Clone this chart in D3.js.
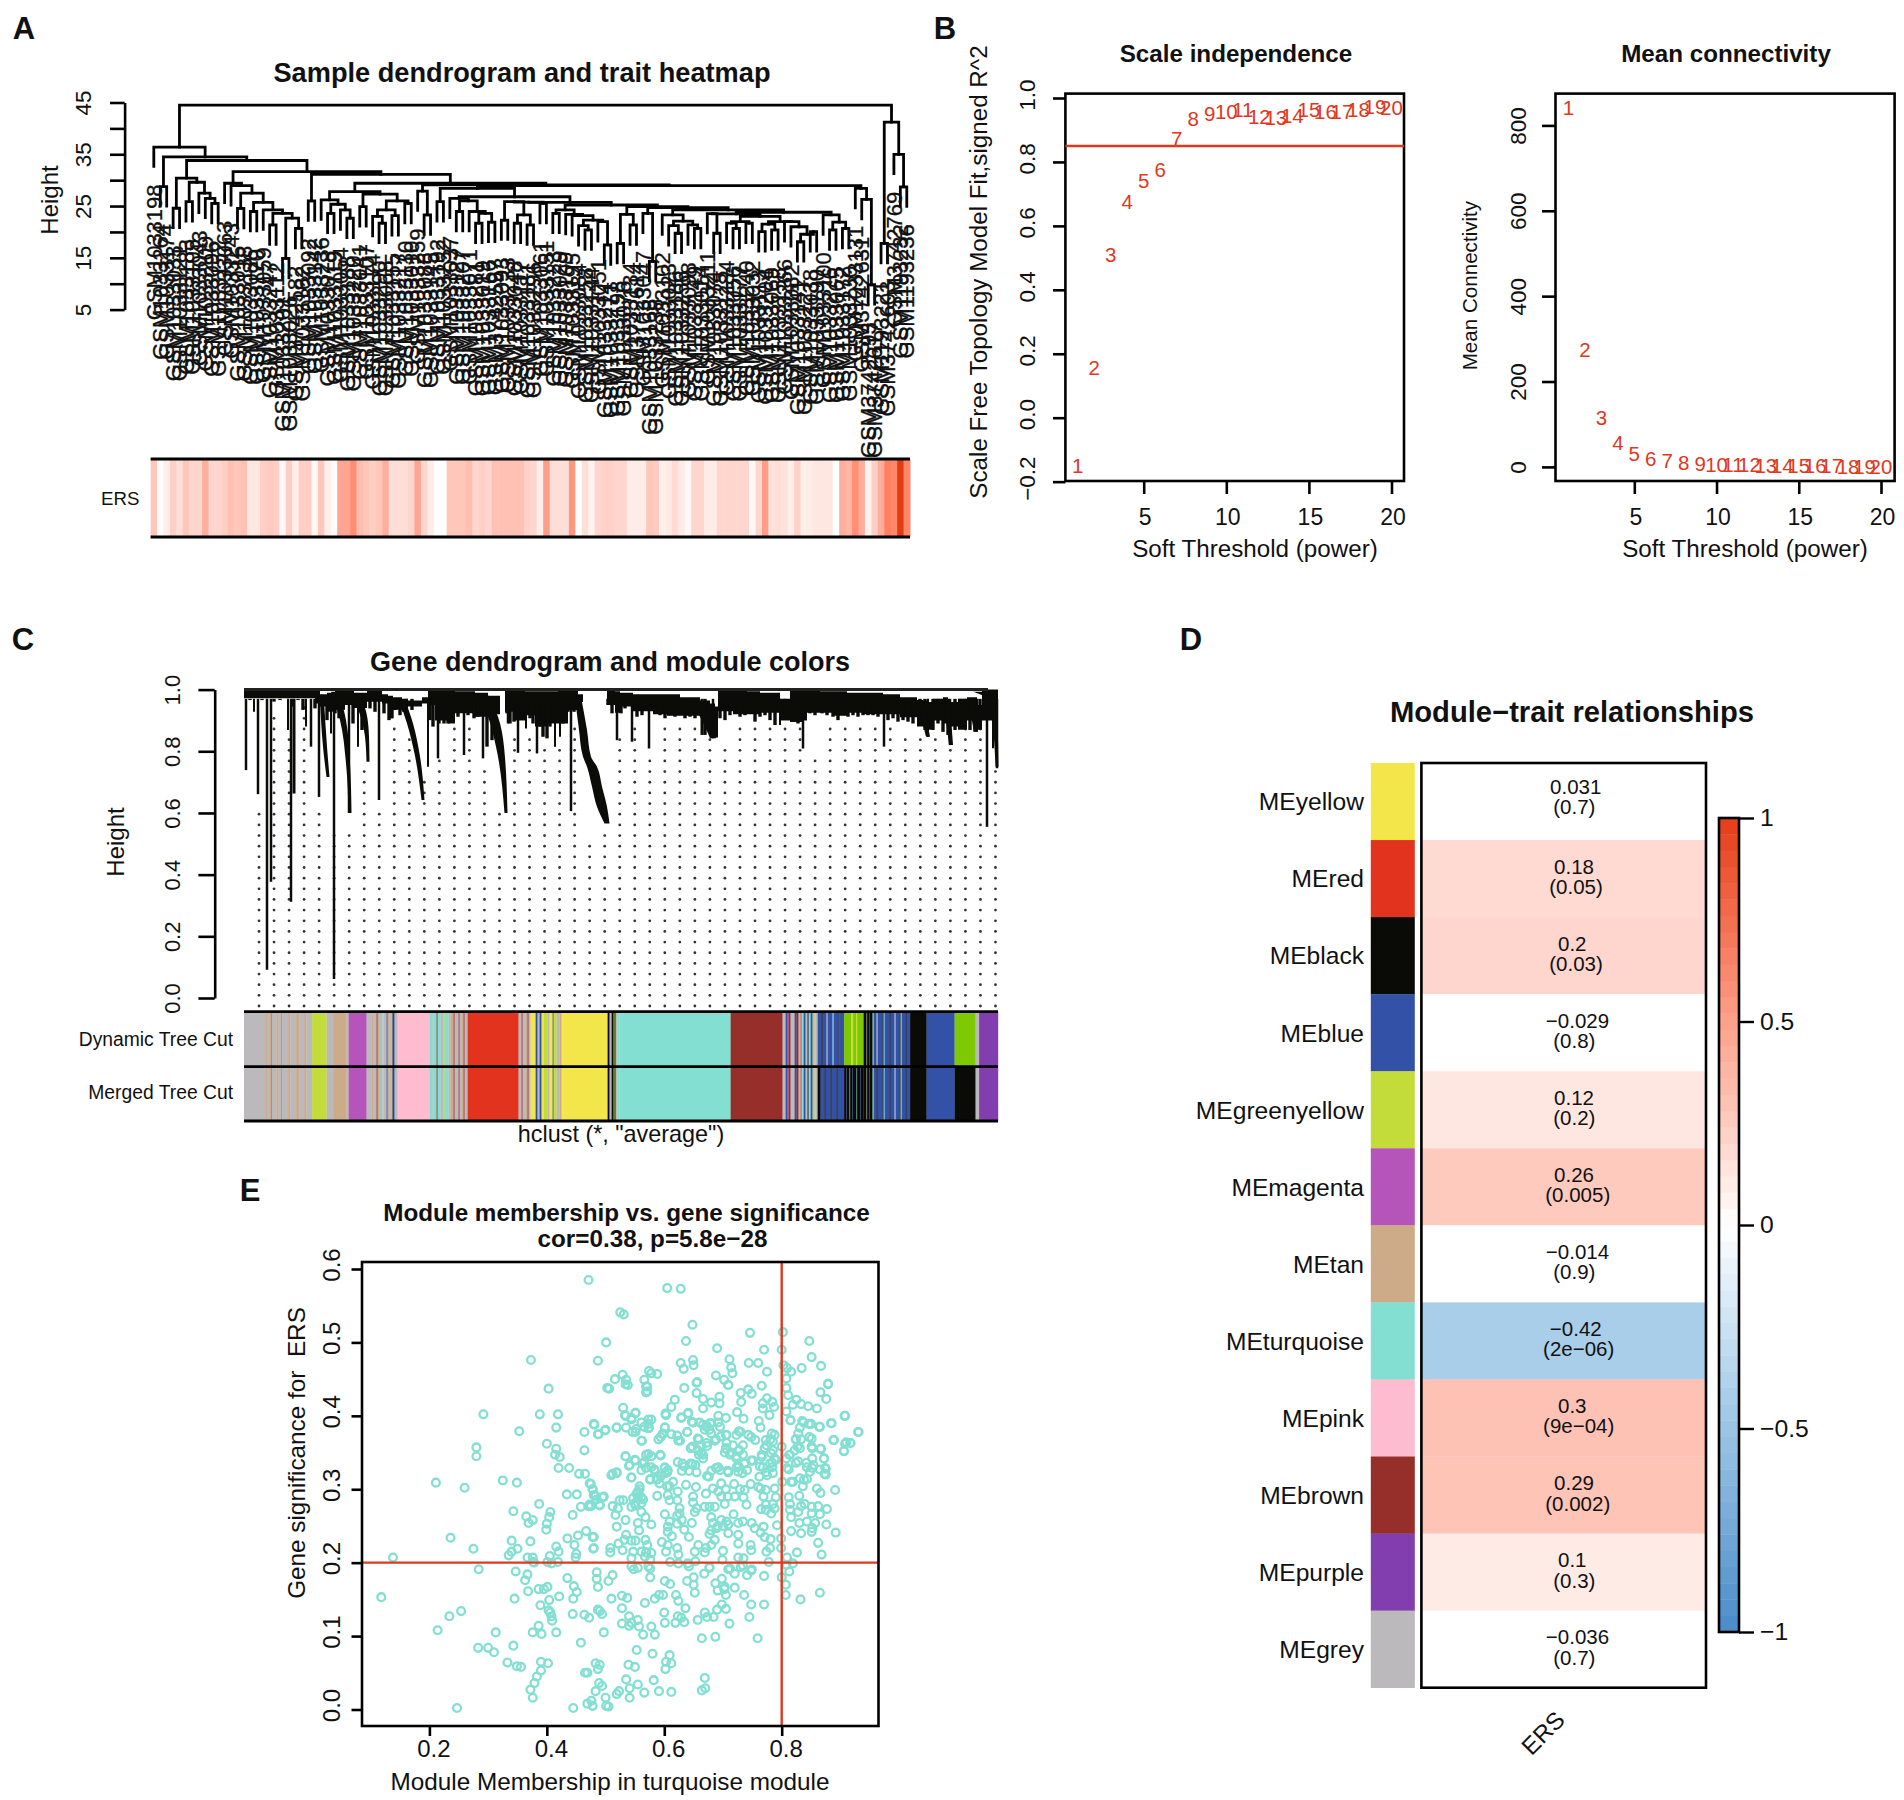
<!DOCTYPE html>
<html>
<head>
<meta charset="utf-8">
<title>WGCNA panels</title>
<script src="https://cdn.jsdelivr.net/npm/d3@7"></script>
<style>
  body { margin: 0; background: #fff; }
  text { font-family: "Liberation Sans", Arial, sans-serif; fill: #111; }
</style>
</head>
<body>
<div id="chart"></div>
<script>
// ---- panel A data
var L = 0; // a leaf of the sample tree
var sampleTree = [44.5,
  [36.4, L,
    [34.5,
      [28.75, L, L],
      [33.8,
        [30.4, [24.6, L, L], [29.6, [25.85, L, L], [27.5, L, [26.5, L, [25.5, L, L]]]]],
        [31.65,
          [29.4, L, [28.95, L, [27.5, [24.55, L, L], [25.7, [23.95, L, L], [24.25, L, [23.6, [21.35, L, L], [22.65, [14.9, L, L], [20.7, L, L]]]]]]]],
          [31.1,
            [26, L, L],
            [29.4,
              [27.8,
                [26.2, L, [25.35, [23.6, L, L], [24.25, L, [22.65, L, L]]]],
                [27.3, [24.9, L, L], [26, [24.25, [23, L, [21.7, L, L]], [23.15, L, L]], [25.5, L, L]]]],
              [29.1,
                [27.9, L, [23.3, L, L]],
                [28.95,
                  [28.4,
                    [25.85, L, L],
                    [26.8,
                      [26.5, L, [26, [23.95, L, L], [23.95, L, [23.6, [21.7, L, L], [21.9, L, L]]]]],
                      [25.7,
                        [25.75, [25.85, [22.3, L, L], [23.3, [21.7, L, L], [21.35, L, L]]], [25.5, L, L]],
                        [25.2,
                          [24.25, [23.6, L, L], [23.4, L, [23.15, L, [22.3, [21.2, L, [20.4, L, L]], [22, L, [17.5, L, L]]]]]],
                          [24.9,
                            [23.4, [17.8, L, L], [21.35, L, L]],
                            [24.7,
                              [23.6, L, [14.3, L, L]],
                              [24.25,
                                [23.3, L, [22.1, [21.2, L, [19.75, L, L]], [21.35, L, [20.7, L, L]]]],
                                [23.8,
                                  [23.5,
                                    [23.55, L, [19.75, L, L]],
                                    [23,
                                      [22, [21.7, L, [20.7, L, L]], [21.7, L, L]],
                                      [22, [21.5, [20.05, L, L], [20.4, L, L]], [22, L, [21, L, [19.55, [18.1, L, L], [20.05, L, L]]]]]]],
                                  [23.3, L, [21.9, [20.4, L, L], [20.7, L, L]]]]]]]]]]],
                  [28.4, L, [26.3, L, [9.8, L, L]]]]]]]]]]],
  [41.2, [17.8, L, L], [35, L, [28.7, L, L]]]];

var sampleIds = [
  "GSM1033198", "GSM1033264", "GSM1033174", "GSM1033033", "GSM1033121", "GSM1033183", "GSM1033105", "GSM1033043", "GSM1033209", "GSM1033096",
  "GSM1033152", "GSM1033063", "GSM1033243", "GSM1033015", "GSM1033138", "GSM1033086", "GSM1033170", "GSM1033059", "GSM1033247", "GSM1033112",
  "GSM1033201", "GSM1033026", "GSM3742582", "GSM1033162", "GSM1033092", "GSM1033142", "GSM1033236", "GSM1033078", "GSM1033119", "GSM1033054",
  "GSM1033188", "GSM1033220", "GSM1033041", "GSM1033107", "GSM1033174", "GSM1033290", "GSM1033068", "GSM1033155", "GSM1033217", "GSM1033130",
  "GSM1033010", "GSM1033259", "GSM1033088", "GSM1033145", "GSM1033192", "GSM1033252", "GSM1033037", "GSM1033127", "GSM1033207", "GSM1033071",
  "GSM1033281", "GSM1033019", "GSM1033166", "GSM3742597", "GSM1033093", "GSM1033233", "GSM1033048", "GSM1033117", "GSM1033181", "GSM1033296",
  "GSM1033061", "GSM1033151", "GSM1033223", "GSM1033029", "GSM1033109", "GSM1033195", "GSM1033084", "GSM1033258", "GSM1033144", "GSM1033051",
  "GSM1033214", "GSM1033271", "GSM1033198", "GSM1033076", "GSM1033134", "GSM3742614", "GSM1033047", "GSM1033168", "GSM1033238", "GSM1033102",
  "GSM1033023", "GSM1033186", "GSM1033256", "GSM1033098", "GSM1033149", "GSM1033014", "GSM1033211", "GSM1033074", "GSM1033125", "GSM1033284",
  "GSM1033056", "GSM1033177", "GSM1033240", "GSM1033032", "GSM1033113", "GSM1033204", "GSM1033069", "GSM1033158", "GSM1033266", "GSM1033082",
  "GSM1033141", "GSM1033227", "GSM1033038", "GSM1033190", "GSM1033100", "GSM1033276", "GSM1033065", "GSM1033172", "GSM1033230", "GSM1033131",
  "GSM3742631", "GSM3742593", "GSM3742617", "GSM1193221", "GSM3742603", "GSM3742769", "GSM1193232", "GSM1193236"
];

var ersValues = [
  .35, .02, .1, .3, .2, .35, .25, .25, .5, .25,
  .25, .3, .38, .35, .38, .15, .15, .3, .32, .3,
  .05, .3, .1, .3, .3, .05, .35, .1, .02, .55,
  .55, .7, .4, .35, .3, .35, .5, .2, .2, .2,
  .25, .55, .25, .12, 0, 0, .35, .35, .35, .4,
  .25, .3, .25, .38, .38, .38, .38, .38, .28, .25,
  .1, .6, .2, .2, .2, .65, 0, .2, .08, .25,
  .28, .28, .25, .25, .12, .12, .12, .35, .32, .1,
  .13, .22, .13, .05, .25, .25, .12, .12, .25, .25,
  .25, .25, .25, .05, .25, .6, .18, .2, .18, .1,
  .28, .1, .12, .15, .15, .15, 0, .5, .45,
  .7, .5, .08, .3, .5, .8, .75, 1, .75
];

// ---- panel B data
var powers = [1, 2, 3, 4, 5, 6, 7, 8, 9, 10, 11, 12, 13, 14, 15, 16, 17, 18, 19, 20];
var scaleFit = [-0.149, 0.155, 0.508, 0.676, 0.74, 0.775, 0.873, 0.936, 0.949, 0.956, 0.962, 0.94, 0.939, 0.943, 0.962, 0.957, 0.956, 0.963, 0.971, 0.97];
var meanConn = [842, 275, 114, 57, 31, 19, 14, 9.5, 7, 6, 4.5, 4, 3.2, 2.8, 2.2, 1.8, 1.5, 1.2, 1, 0.8];

// ---- panel C data
var moduleColors = {
  grey: "#bbb9bb", tan: "#cdab88", greenyellow: "#c3dc3a", magenta: "#b655b9", pink: "#fdbcd0",
  red: "#e2331f", yellow: "#f3e64a", turquoise: "#83dfd2", brown: "#962f29", black: "#0a0a07",
  blue: "#3251a7", green: "#7ec904", purple: "#823eae"
};
var sharedRuns = [
  ["grey", 22], ["tan", 1], ["grey", 3], ["tan", 1], ["red", .6], ["grey", 5], ["tan", 2], ["grey", 3], ["red", .5], ["grey", 6], ["tan", 2], ["grey", 6], ["tan", 3], ["grey", 5], ["tan", 2], ["grey", 6],
  ["greenyellow", 14.5], ["grey", 6.5], ["tan", 13.5], ["grey", 2], ["magenta", 18],
  ["grey", 5], ["tan", 2], ["grey", 3], ["brown", 1], ["tan", 2], ["grey", 3], ["turquoise", 1], ["grey", 3], ["blue", 1], ["tan", 2], ["grey", 3], ["black", 1], ["blue", 1], ["grey", 3],
  ["pink", 32],
  ["turquoise", 3], ["grey", 1], ["turquoise", 3], ["brown", 1], ["turquoise", 3], ["grey", 3], ["greenyellow", 1], ["turquoise", 4], ["grey", 2], ["tan", 3], ["brown", 1], ["grey", 4], ["brown", 1], ["grey", 2], ["tan", 2], ["brown", 1], ["grey", 3],
  ["red", 51],
  ["grey", 3], ["brown", 1], ["grey", 3], ["tan", 2], ["brown", 1], ["grey", 2], ["yellow", 5], ["blue", 2], ["grey", 2], ["blue", 2], ["yellow", 2], ["greenyellow", 4], ["grey", 2], ["yellow", 3], ["blue", 1], ["greenyellow", 3], ["grey", 3], ["tan", 2], ["yellow", 2],
  ["yellow", 44],
  ["black", 2], ["grey", 2], ["black", 2], ["green", 1], ["black", 1], ["grey", 2], ["turquoise", 2],
  ["turquoise", 111],
  ["brown", 52],
  ["grey", 3], ["blue", 2], ["magenta", 1], ["brown", 2], ["grey", 3], ["tan", 1], ["blue", 2], ["brown", 2], ["grey", 2], ["red", 1], ["turquoise", 2], ["blue", 2], ["grey", 2], ["black", 1], ["turquoise", 2], ["blue", 2], ["grey", 2], ["greenyellow", 1], ["grey", 2]
];
var dynamicTail = [
  ["blue", 4], ["black", 1], ["blue", 4], ["grey", 1], ["blue", 5], ["turquoise", 1], ["blue", 5], ["black", .5], ["blue", 5],
  ["green", 7], ["greenyellow", 2], ["green", 3], ["greenyellow", 1], ["green", 6.5],
  ["black", 3], ["grey", .5], ["black", 2], ["blue", .5], ["black", 3], ["turquoise", 1], ["blue", 3], ["grey", 1], ["blue", 5], ["black", 1], ["turquoise", 1], ["blue", 5], ["black", 1], ["blue", 4], ["grey", 1], ["blue", 4], ["black", 1], ["turquoise", 1], ["blue", 4], ["black", 1], ["blue", 3.5],
  ["black", 16.5], ["blue", 28], ["green", 21], ["grey", 3.5], ["purple", 19.5]
];
var mergedTail = [
  ["black", 3], ["blue", 4], ["black", 1], ["blue", 5], ["black", 1], ["blue", 5], ["black", 1], ["blue", 6.5],
  ["black", 2], ["blue", .5], ["black", 3], ["grey", .5], ["black", 2], ["blue", .5], ["black", 4], ["turquoise", .5], ["black", 3], ["blue", .5], ["black", 3],
  ["black", 3], ["grey", .5], ["black", 2], ["blue", .5], ["black", 3], ["turquoise", 1], ["blue", 3], ["black", 1], ["blue", 5], ["black", 1], ["turquoise", 1], ["blue", 5], ["black", 1], ["blue", 4], ["grey", 1], ["blue", 4], ["black", 1], ["turquoise", 1], ["blue", 4], ["black", 1], ["blue", 3.5],
  ["black", 16.5], ["blue", 28], ["black", 21], ["grey", 3.5], ["purple", 19.5]
];

// [gene order, top height, lower height] of the solid part of the gene tree
var geneCanopy = [
  [0, 1, .972], [71, 1, .955], [76, .985, .945], [83, .99, .928], [91, 1, .935], [101, 1, .95], [110, .99, .94], [123, 1, .961],
  [138, .985, .955], [144, .98, .907], [149, .975, .935], [158, .97, .928], [164, .965, .945], [178, .975, .955], [184, 1, .95], [191, 1, .9],
  [204, 1, .89], [211, .995, .923], [221, .995, .923], [231, .99, .912], [244, .98, .92], [256, 1, 1], [261, 1, .928], [271, 1, .9],
  [281, .995, .917], [291, .995, .88], [304, .995, .89], [314, 1, .89], [324, 1, .934], [334, .985, .96], [339, 1, 1], [363, 1, .95],
  [371, .995, .925], [376, .99, .945], [389, .985, .93], [409, .985, .92], [423, .985, .915], [436, .975, .915], [456, .965, .91], [466, .955, .86],
  [471, .945, .845], [474, 1, .93], [489, 1, .92], [503, .995, .92], [516, .99, .925], [536, .97, .9], [546, 1, .895], [559, 1, .9],
  [563, 1, .925], [576, .995, .925], [589, .995, .915], [603, .99, .925], [619, .99, .92], [639, .985, .92], [656, .975, .91], [673, .965, .88],
  [683, .96, .87], [689, .97, .9], [699, .975, .89], [704, .96, .88], [714, .97, .87], [723, .975, .9], [733, .95, .87], [738, 1, .9], [754, 1, .9]
];
// [gene order, lowest height] of the short twigs under the canopy
var geneTwigs = [
  [6, .966], [18, .966], [30, .961], [36, .966], [49, .945], [54, .966], [59, .934], [71, .939], [83, .901], [91, .923], [95, .907], [109, .89], [118, .869], [126, .939], [131, .928], [140, .923],
  [145, .901], [148, .907], [151, .934], [156, .917], [162, .923], [168, .934], [186, .901], [189, .88], [195, .89], [200, .89], [204, .89], [209, .917], [214, .912], [224, .917], [230, .907], [234, .912],
  [243, .815], [248, .836], [263, .923], [266, .89], [270, .896], [278, .912], [286, .907], [289, .89], [296, .88], [299, .847], [303, .842], [306, .88], [319, .89], [324, .928], [330, .928],
  [364, .95], [368, .923], [377, .923], [381, .939], [393, .912], [398, .917], [411, .923], [416, .917], [421, .907], [426, .917], [431, .912], [436, .917], [441, .907], [446, .912], [451, .907], [461, .853],
  [476, .907], [481, .901], [486, .917], [491, .923], [496, .912], [501, .917], [506, .923], [511, .896], [516, .912], [521, .917], [526, .901], [531, .885], [541, .907], [548, .896], [554, .89],
  [566, .923], [571, .917], [578, .923], [583, .917], [589, .912], [594, .901], [599, .917], [604, .912], [609, .917], [614, .912], [619, .917], [624, .917], [629, .917], [634, .912],
  [644, .901], [649, .907], [654, .896], [659, .901], [664, .896], [669, .89], [676, .885], [681, .869], [689, .869], [694, .89], [699, .863], [704, .853], [711, .869], [716, .896], [721, .88], [726, .869], [731, .863], [736, .885]
];
// [gene order, lowest height, stroke width] of the single hanging branches
var geneSpikes = [
  [2, .739, 2.5], [10, .928, 2], [14, .661, 2.5], [23, .092, 2.5], [27, .377, 2.5], [44, .869, 2], [47, .312, 2.5], [50, .663, 3], [62, .88, 2], [67, .815, 2.5],
  [75, .652, 2.5], [87, .858, 2], [90, .062, 2.5], [105, .6, 2.5], [114, .815, 2], [135, .642, 2.5], [184, .75, 2], [194, .777, 2.5], [220, .788, 2.5], [239, .777, 2.5],
  [264, .89, 2.5], [274, .795, 2.5], [282, .874, 2], [293, .793, 2.5], [311, .815, 2], [316, .847, 2], [327, .606, 2.5], [373, .836, 2.5], [388, .831, 2.5], [405, .809, 2.5],
  [458, .853, 3], [469, .842, 2.5], [536, .885, 2], [559, .809, 2.5], [640, .815, 2.5], [684, .847, 2], [706, .82, 2.5], [733, .863, 2], [743, .555, 2.5], [749, .81, 2], [753, .745, 2.5]
];
// [gene order, height, half width] along the thick curved branches
var geneSweeps = [
  [[91, .993, 4], [99, .901, 3], [104, .761, 2], [106, .6, 1.5]],
  [[111, .988, 4], [119, .923, 3.5], [123, .847, 2], [124, .766, 1.5]],
  [[158, .966, 3], [166, .89, 3], [173, .793, 2.5], [179, .642, 1.5]],
  [[238, .988, 5], [249, .912, 5], [256, .815, 4], [262, .6, 1.5]],
  [[334, .977, 3], [339, .869, 4], [343, .782, 4], [348, .75, 5], [353, .685, 5], [358, .62, 5], [363, .566, 2.5]],
  [[78, .966, 2], [81, .815, 2], [84, .717, 1.5]],
  [[734, .993, 5], [744, .977, 4], [750, .923, 3], [753, .75, 1.5]],
  [[446, .97, 2], [459, .923, 5], [469, .842, 3]],
  [[676, .966, 3], [684, .847, 2]],
  [[703, .955, 3], [707, .82, 2]],
  [[728, .95, 3], [732, .864, 2]]
];
// highest guide dot of each dotted column, left to right
var guideTops = [
  .62, .92, .85, .95, .6, .55, .55, .75, .63, .88, .85, .7, .78, .9, .88, .75, .6, .85, .87, .82, .82, .9, .5, .55,
  .84, .88, .8, .88, .88, .9, .88, .82, .88, .88, .9, .88, .88, .8, .88, .9, .9, .88, .88, .85, .85, .84, .85, .88, .88, .75
];

// ---- panel D data
var moduleNames = ["MEyellow", "MEred", "MEblack", "MEblue", "MEgreenyellow", "MEmagenta", "MEtan", "MEturquoise", "MEpink", "MEbrown", "MEpurple", "MEgrey"];
var moduleSwatches = ["yellow", "red", "black", "blue", "greenyellow", "magenta", "tan", "turquoise", "pink", "brown", "purple", "grey"];
var moduleCor = [0.031, 0.18, 0.2, -0.029, 0.12, 0.26, -0.014, -0.42, 0.3, 0.29, 0.1, -0.036];
var moduleCorText = ["0.031", "0.18", "0.2", "\u22120.029", "0.12", "0.26", "\u22120.014", "\u22120.42", "0.3", "0.29", "0.1", "\u22120.036"];
var modulePText = ["(0.7)", "(0.05)", "(0.03)", "(0.8)", "(0.2)", "(0.005)", "(0.9)", "(2e\u221206)", "(9e\u221204)", "(0.002)", "(0.3)", "(0.7)"];
var legendTicks = [1, 0.5, 0, -0.5, -1];

// ---- panel E data: [module membership, gene significance]
var genePoints = [
  [.471,.585],[.605,.574],[.628,.573],[.525,.541],[.531,.538],[.648,.524],[.637,.502],[.501,.5],[.746,.513],[.802,.514],[.847,.502],[.69,.492],[.77,.49],[.8,.49],[.851,.48],
  [.373,.476],[.487,.475],[.649,.476],[.628,.472],[.633,.464],[.65,.469],[.711,.477],[.714,.466],[.716,.458],[.744,.472],[.76,.472],[.803,.469],[.809,.465],[.816,.46],[.834,.465],[.867,.468],[.775,.46],
  [.529,.456],[.516,.45],[.535,.449],[.538,.442],[.566,.449],[.574,.461],[.578,.458],[.588,.457],[.571,.44],[.571,.433],[.506,.437],[.403,.437],[.688,.455],[.702,.449],[.709,.442],[.656,.446],[.808,.451],[.879,.443],
  [.292,.402],[.388,.402],[.419,.402],[.416,.384],[.353,.379],[.931,.378],[.481,.388],[.464,.378],[.488,.375],[.499,.38],[.519,.384],[.534,.4],[.551,.404],[.544,.395],[.603,.401],[.629,.397],[.641,.404],[.649,.391],[.908,.4],
  [.211,.309],[.26,.302],[.325,.312],[.349,.309],[.28,.357],[.28,.345],[.236,.234],[.275,.219],[.138,.207],[.284,.191],
  [.343,.27],[.365,.263],[.369,.254],[.376,.258],[.387,.28],[.406,.269],[.404,.262],[.4,.253],[.399,.245],[.34,.23],[.372,.229],[.35,.219],[.34,.215],[.335,.21],
  [.367,.207],[.376,.207],[.377,.201],[.378,.2],[.405,.209],[.401,.201],[.408,.199],[.416,.222],[.42,.215],[.419,.201],
  [.4,.362],[.416,.355],[.414,.347],[.422,.344],[.42,.329],[.438,.329],[.455,.321],[.465,.321],[.434,.293],[.451,.293],[.475,.307],[.478,.3],[.483,.291],[.495,.289],
  [.444,.265],[.458,.276],[.471,.277],[.475,.277],[.49,.278],[.467,.243],[.478,.235],[.435,.233],[.453,.237],[.447,.224],[.45,.212],[.449,.207],[.479,.219],[.464,.353],[.512,.321],[.519,.322],
  [.534,.345],[.54,.332],[.551,.339],[.569,.347],[.578,.345],[.594,.346],[.566,.337],[.569,.329],[.562,.366],[.544,.316],[.576,.313],[.587,.313],[.601,.329],[.605,.323],[.583,.327],[.594,.318],[.558,.3],[.555,.289],[.53,.285],[.551,.278],[.564,.286],
  [.594,.371],[.597,.375],[.601,.384],[.612,.375],[.627,.366],[.639,.378],[.551,.378],[.566,.385],[.573,.389],[.578,.395],[.574,.384],[.66,.391],[.673,.386],[.68,.39],[.659,.368],[.673,.359],[.688,.368],[.705,.374],[.727,.379],[.748,.371],
  [.648,.358],[.666,.347],[.705,.355],[.713,.35],[.723,.342],[.748,.339],[.781,.368],[.788,.374],[.813,.347],[.824,.368],[.827,.358],[.851,.358],[.847,.371],[.867,.355],[.872,.342],[.888,.367],[.906,.352],[.908,.362],[.917,.363],[.885,.39],[.865,.385],[.85,.389],[.837,.391],[.815,.394],
  [.623,.337],[.634,.331],[.648,.334],[.655,.323],[.673,.318],[.688,.329],[.695,.326],[.709,.323],[.727,.331],[.741,.326],[.763,.331],[.766,.347],[.773,.323],[.784,.336],[.809,.329],[.824,.336],[.842,.336],[.852,.329],[.874,.329],[.875,.32],[.838,.313],[.819,.31],
  [.503,.438],[.534,.443],[.569,.44],[.569,.432],[.634,.438],[.655,.445],[.709,.442],[.766,.441],[.808,.438],[.879,.444],[.866,.432],[.876,.423],[.655,.431],[.666,.423],[.694,.426],[.68,.418],[.694,.417],[.73,.431],[.743,.436],[.749,.43],[.731,.419],[.775,.424],[.768,.417],[.784,.419],[.811,.428],[.825,.422],[.833,.416],[.819,.415],[.845,.413],[.86,.41],[.618,.422],[.612,.412],[.666,.41],
  [.53,.411],[.551,.404],[.533,.401],[.544,.397],[.602,.403],[.629,.398],[.64,.403],[.768,.41],[.779,.401],[.787,.412],[.808,.406],[.724,.405],[.735,.396],[.692,.4],[.705,.397],[.907,.4],[.647,.392],[.815,.394],[.761,.393],[.835,.393],[.846,.389],[.884,.39],[.864,.385],
  [.573,.395],[.561,.391],[.573,.383],[.48,.389],[.5,.381],[.487,.375],[.519,.384],[.535,.384],[.546,.378],[.552,.382],[.601,.384],[.598,.376],[.59,.368],[.639,.378],[.622,.373],[.624,.366],
  [.666,.388],[.672,.385],[.678,.39],[.692,.391],[.669,.381],[.677,.381],[.695,.385],[.764,.384],[.783,.376],[.831,.384],[.828,.376],[.93,.378],[.68,.376],[.706,.374],[.723,.374],[.73,.378],[.743,.374],[.755,.367],[.686,.366],[.696,.372],[.657,.369],[.672,.363],[.663,.36],[.561,.366],[.773,.367],[.785,.365],[.824,.368],[.833,.368],[.851,.369],[.889,.367],[.91,.364],[.917,.363],[.906,.352],
  [.645,.356],[.657,.353],[.706,.363],[.705,.356],[.703,.35],[.717,.36],[.734,.36],[.728,.353],[.734,.347],[.774,.36],[.771,.356],[.785,.353],[.8,.358],[.831,.356],[.822,.353],[.852,.356],[.866,.355],
  [.659,.347],[.666,.342],[.663,.349],[.593,.347],[.534,.345],[.573,.348],[.578,.345],[.712,.347],[.723,.345],[.766,.344],[.782,.349],[.788,.342],[.814,.347],[.808,.342],[.872,.342],[.852,.342],
  [.55,.34],[.541,.333],[.563,.335],[.561,.326],[.578,.33],[.601,.33],[.606,.326],[.631,.335],[.645,.335],[.653,.333],[.63,.325],[.642,.325],[.584,.325],[.601,.322],[.51,.319],[.519,.323],[.544,.316],[.576,.314],[.589,.314],
  [.692,.33],[.68,.325],[.676,.317],[.708,.325],[.723,.33],[.737,.335],[.751,.339],[.726,.324],[.733,.322],[.768,.33],[.78,.335],[.79,.34],[.784,.33],[.775,.319],[.762,.317],[.785,.322],[.812,.327],[.828,.338],[.843,.33],[.854,.333],[.865,.327],[.875,.328],[.873,.321],[.848,.324],[.816,.31],[.801,.31],[.831,.315],[.843,.314],[.836,.304],
  [.637,.306],[.615,.31],[.609,.304],[.623,.297],[.558,.304],[.555,.297],[.592,.308],[.605,.304],
  [.654,.303],[.697,.308],[.683,.301],[.705,.3],[.719,.307],[.729,.3],[.737,.299],[.747,.307],[.76,.303],[.671,.294],[.692,.297],[.697,.29],[.708,.29],[.72,.29],[.735,.289],[.764,.301],[.773,.299],[.769,.29],[.788,.301],[.79,.289],[.86,.301],[.866,.295],[.891,.299],[.83,.291],[.812,.289],[.473,.308],[.478,.3],[.48,.292],[.497,.29],[.485,.286],
  [.588,.291],[.606,.292],[.561,.289],[.547,.288],[.553,.294],[.524,.285],[.609,.285],[.622,.285],[.649,.29],[.649,.282],[.473,.279],[.49,.279],[.512,.277],[.521,.274],[.544,.276],[.561,.281],[.55,.281],
  [.669,.276],[.677,.276],[.686,.276],[.703,.28],[.74,.279],[.655,.274],[.652,.269],[.626,.274],[.626,.267],[.773,.279],[.785,.28],[.788,.274],[.765,.273],[.773,.272],[.782,.267],[.814,.28],[.839,.28],[.833,.277],[.851,.276],[.862,.277],[.877,.273],[.851,.267],[.865,.266],[.828,.269],[.814,.272],[.816,.262],
  [.517,.265],[.534,.258],[.561,.269],[.568,.262],[.601,.266],[.622,.264],[.63,.258],[.609,.256],[.555,.254],[.578,.252],[.519,.249],[.622,.253],[.647,.254],[.606,.249],[.606,.242],[.557,.244],[.634,.245],[.642,.235],[.613,.236],
  [.718,.266],[.68,.262],[.683,.254],[.697,.258],[.706,.256],[.7,.25],[.709,.252],[.691,.25],[.68,.244],[.689,.247],[.677,.239],[.726,.254],[.734,.256],[.709,.24],[.726,.238],[.726,.226],[.749,.254],[.754,.247],[.769,.249],[.764,.241],[.771,.235],[.781,.232],[.792,.251],[.799,.233],[.83,.254],[.843,.256],[.857,.254],[.876,.252],[.816,.243],[.833,.24],[.851,.242],[.852,.247],[.892,.241],[.862,.227],
  [.535,.238],[.532,.231],[.544,.23],[.551,.23],[.522,.226],[.568,.231],[.571,.224],[.596,.228],[.606,.224],[.622,.22],[.658,.224],[.686,.231],[.68,.224],[.671,.22],[.48,.235],[.48,.22],[.508,.22],[.508,.214],[.529,.217],[.547,.215],[.561,.215],[.569,.214],[.578,.213],[.603,.215],[.624,.211],[.652,.215],[.669,.214],[.7,.216],[.747,.224],[.748,.217],[.78,.22],[.774,.215],[.799,.22],[.826,.214],[.868,.211],[.809,.207],
  [.544,.206],[.567,.208],[.576,.204],[.61,.201],[.624,.199],[.64,.199],[.653,.202],[.699,.204],[.726,.207],[.735,.206],[.778,.201],[.819,.199],[.808,.197],[.544,.195],[.573,.195],[.642,.195],[.677,.194],[.712,.192],[.73,.194],[.749,.191],
  [.347,.188],[.367,.184],[.363,.176],[.435,.179],[.446,.168],[.451,.16],[.445,.151],[.368,.161],[.345,.151],[.386,.164],[.395,.164],[.401,.167],[.118,.153],[.254,.134],[.234,.127],[.214,.108],[.313,.105],
  [.283,.084],[.3,.084],[.31,.078],[.343,.087],[.333,.064],[.349,.059],[.356,.058],[.389,.142],[.404,.149],[.421,.154],[.403,.135],[.406,.132],[.408,.127],[.409,.121],[.376,.105],[.386,.114],[.391,.103],[.416,.105],
  [.39,.065],[.402,.063],[.39,.053],[.383,.045],[.379,.036],[.372,.027],[.376,.016],[.247,.002],[.445,.002],[.469,.008],[.476,.012],[.478,.005],[.5,.016],[.501,.005],[.505,.004],
  [.458,.091],[.465,.05],[.469,.05],[.483,.063],[.49,.061],[.487,.055],[.483,.025],[.489,.036],[.494,.032],[.519,.021],[.523,.025],[.541,.016],[.541,.029],[.535,.041],[.555,.034],[.539,.061],[.55,.058],[.553,.081],[.58,.076],[.566,.023],[.591,.025],[.582,.04],[.612,.024],[.602,.055],[.609,.074],[.603,.065],[.612,.063],
  [.664,.026],[.67,.029],[.669,.043],[.664,.097],[.687,.099],[.759,.097],[.444,.13],[.464,.129],[.472,.125],[.487,.136],[.49,.134],[.494,.13],[.497,.105],[.485,.187],[.485,.178],[.487,.167],[.512,.183],[.505,.175],[.51,.151],[.528,.155],[.537,.152],
  [.528,.138],[.54,.127],[.528,.117],[.544,.118],[.555,.122],[.54,.114],[.557,.113],[.564,.102],[.584,.102],[.578,.113],[.567,.145],[.584,.151],[.591,.156],[.598,.156],[.601,.175],[.61,.171],[.576,.192],[.576,.18],[.548,.191],[.555,.193],
  [.6,.132],[.601,.118],[.619,.118],[.623,.127],[.629,.125],[.634,.119],[.636,.138],[.62,.156],[.624,.148],[.657,.122],[.669,.132],[.673,.126],[.684,.126],[.69,.136],[.698,.143],[.705,.137],[.711,.117],
  [.639,.175],[.65,.17],[.652,.159],[.65,.18],[.677,.193],[.668,.185],[.687,.172],[.698,.178],[.703,.167],[.691,.162],[.702,.164],[.72,.166],[.705,.156],[.736,.156],[.709,.191],[.72,.185],[.741,.183],[.748,.189],[.734,.196],[.77,.182],[.77,.143],[.748,.143],[.745,.126],
  [.8,.18],[.807,.17],[.807,.156],[.813,.188],[.832,.15],[.865,.159]
];

var RED = "#e0381f";
var svg = d3.select("#chart").append("svg").attr("width", 1904).attr("height", 1800);

function addText(s, x, y, size, opts) {
  opts = opts || {};
  var t = svg.append("text").attr("x", x).attr("y", y).attr("font-size", size)
    .attr("text-anchor", opts.anchor || "middle").attr("dy", ".35em").text(s);
  if (opts.bold) t.attr("font-weight", "bold");
  if (opts.rotate) t.attr("transform", "rotate(" + opts.rotate + "," + x + "," + y + ")");
  if (opts.fill) t.style("fill", opts.fill);
  return t;
}

function rMinus(fmt) {
  return function(d) { return fmt(d).replace("-", "\u2212"); };
}

// R style left axis, tick labels turned along the axis
function leftAxis(x, scale, ticks, tickLen, labelDist, fmt, size, labelShift) {
  var g = svg.append("g").attr("transform", "translate(" + x + ",0)")
    .call(d3.axisLeft(scale).tickValues(ticks).tickSize(tickLen).tickSizeOuter(0).tickFormat(fmt));
  g.selectAll("line, path").attr("stroke", "#000").attr("stroke-width", 2.6);
  g.selectAll("text").attr("transform", "rotate(-90)").attr("x", labelShift || 0).attr("y", -labelDist)
    .attr("dy", ".35em").attr("text-anchor", "middle").attr("font-size", size)
    .attr("font-family", "Liberation Sans");
  return g;
}

function bottomAxis(y, scale, ticks, tickLen, labelDist, fmt, size, labelShift) {
  var g = svg.append("g").attr("transform", "translate(0," + y + ")")
    .call(d3.axisBottom(scale).tickValues(ticks).tickSize(tickLen).tickSizeOuter(0).tickFormat(fmt));
  g.select(".domain").remove();
  g.selectAll("line").attr("stroke", "#000").attr("stroke-width", 2.6);
  g.selectAll("text").attr("x", labelShift || 0).attr("y", labelDist).attr("dy", ".35em").attr("font-size", size)
    .attr("font-family", "Liberation Sans");
  return g;
}

function box(x0, y0, x1, y1) {
  svg.append("rect").attr("x", x0).attr("y", y0).attr("width", x1 - x0).attr("height", y1 - y0)
    .attr("fill", "none").attr("stroke", "#000").attr("stroke-width", 2.6);
}

// panel letters
addText("A", 24, 28, 31, {bold: true});
addText("B", 945, 28, 31, {bold: true});
addText("C", 23, 639, 31, {bold: true});
addText("D", 1191, 639, 31, {bold: true});
addText("E", 250, 1190, 31, {bold: true});

function drawSampleDendrogram() {
  addText("Sample dendrogram and trait heatmap", 522, 72, 27.2, {bold: true});
  var h = d3.scaleLinear().domain([5, 45]).range([309.6, 102.5]);
  var heatX = d3.scaleBand().domain(d3.range(ersValues.length)).range([150.6, 910]);
  var hang = 3.75;

  leftAxis(124.6, h, [5, 10, 15, 20, 25, 30, 35, 40, 45], 14.6, 41.6,
    function(d) { return d % 10 == 5 ? d : ""; }, 22.5);
  addText("Height", 50, 200, 24, {rotate: -90});

  var root = d3.hierarchy(sampleTree, function(d) { return Array.isArray(d) ? d.slice(1) : null; });
  root.leaves().forEach(function(n, i) {
    n.x = heatX(i) + heatX.bandwidth() / 2;
    n.leafIndex = i;
  });
  root.eachAfter(function(n) {
    if (n.children) n.x = (n.children[0].x + n.children[1].x) / 2;
  });
  function nodeBottom(n, parentH) {
    return n.children ? h(n.data[0]) : h(parentH - hang);
  }
  svg.append("g").selectAll("path").data(root.descendants().filter(function(n) { return n.children; }))
    .enter().append("path")
    .attr("fill", "none").attr("stroke", "#000").attr("stroke-width", 2.8).attr("stroke-linecap", "square")
    .attr("d", function(n) {
      var a = n.children[0], b = n.children[1], y = h(n.data[0]);
      return "M" + a.x + "," + nodeBottom(a, n.data[0]) + "V" + y + "H" + b.x + "V" + nodeBottom(b, n.data[0]);
    });

  svg.append("g").selectAll("text").data(root.leaves()).enter().append("text")
    .attr("font-size", 22).attr("text-anchor", "end").attr("dy", ".35em")
    .attr("stroke", "#111").attr("stroke-width", .3)
    .attr("transform", function(n) {
      return "translate(" + n.x + "," + (h(n.parent.data[0] - hang) + 18) + ") rotate(-90)";
    })
    .text(function(n) { return sampleIds[n.leafIndex]; });

  // trait strip
  var ersColor = d3.scaleLinear().domain([0, .6, .8, 1]).range(["#ffffff", "#ff9d88", "#ff7f60", "#e23c12"]);
  svg.append("g").selectAll("rect").data(ersValues).enter().append("rect")
    .attr("x", function(d, i) { return heatX(i); }).attr("y", 459).attr("width", heatX.bandwidth() + .5).attr("height", 78)
    .attr("fill", function(d) { return ersColor(d); });
  [459, 537].forEach(function(y) {
    svg.append("line").attr("x1", 150.6).attr("x2", 910).attr("y1", y).attr("y2", y)
      .attr("stroke", "#000").attr("stroke-width", 2.8);
  });
  addText("ERS", 139.5, 498, 18.7, {anchor: "end"});
}

function drawSoftPanel(title, titleX, x0, x1, xScale, yScale, yTicks, yFmt, yTitle, yTitleX, yTitleY, yTitleSize, labelDist, labelShift, values) {
  addText(title, titleX, 54, 24.2, {bold: true});
  box(x0, 93.6, x1, 481);
  leftAxis(x0, yScale, yTicks, x0 === 1065.4 ? 12.4 : 13.5, labelDist, yFmt, 22.5, labelShift).select(".domain").remove();
  bottomAxis(481, xScale, [5, 10, 15, 20], 13, 36, d3.format("d"), 23, 1);
  addText("Soft Threshold (power)", titleX + 19, 549, 24.2);
  addText(yTitle, yTitleX, yTitleY, yTitleSize, {rotate: -90});
  svg.append("g").selectAll("text.pw").data(powers).enter().append("text")
    .attr("class", "pw").attr("x", function(d) { return xScale(d); })
    .attr("y", function(d, i) { return yScale(values[i]); })
    .attr("text-anchor", "middle").attr("dy", ".35em").attr("font-size", 20.5)
    .style("fill", RED).text(function(d) { return d; });
}

function drawSoftThreshold() {
  var x1 = d3.scaleLinear().domain([5, 20]).range([1143.7, 1391.5]);
  var y1 = d3.scaleLinear().domain([0, 1]).range([417.7, 98]);
  var x2 = d3.scaleLinear().domain([5, 20]).range([1634.3, 1881]);
  var y2 = d3.scaleLinear().domain([0, 800]).range([466.9, 125.4]);

  drawSoftPanel("Scale independence", 1236, 1065.4, 1404, x1, y1, [-0.2, 0, 0.2, 0.4, 0.6, 0.8, 1],
    rMinus(d3.format(".1f")), "Scale Free Topology Model Fit,signed R^2", 978.5, 272, 24.2, 38, 3.5, scaleFit);
  svg.append("line").attr("x1", 1065.4).attr("x2", 1404).attr("y1", y1(0.85)).attr("y2", y1(0.85))
    .attr("stroke", RED).attr("stroke-width", 2.6);

  drawSoftPanel("Mean connectivity", 1726, 1555.5, 1894.6, x2, y2, [0, 200, 400, 600, 800],
    d3.format("d"), "Mean Connectivity", 1470, 285.6, 20.6, 37.5, 0, meanConn);
}

function drawGeneDendrogram() {
  addText("Gene dendrogram and module colors", 610, 662, 27, {bold: true});
  var pos = d3.scaleLinear().domain([0, 754]).range([244, 998]);
  var h = d3.scaleLinear().domain([0, 1]).range([998, 689.6]);

  leftAxis(214.7, h, [0, .2, .4, .6, .8, 1], 16.3, 42.7, d3.format(".1f"), 22);
  addText("Height", 116, 842, 24, {rotate: -90});

  // guide dots
  var dots = [];
  guideTops.forEach(function(top, j) {
    d3.range(29).forEach(function(k) {
      var v = -0.026 + k * 0.03455;
      if (v <= top) dots.push([15 + j * 15.03, v]);
    });
  });
  svg.append("g").selectAll("circle").data(dots).enter().append("circle")
    .attr("cx", function(d) { return pos(d[0]); }).attr("cy", function(d) { return h(d[1]); })
    .attr("r", 1.4).attr("fill", "#333");

  var canopy = d3.area().curve(d3.curveStepAfter)
    .x(function(d) { return pos(d[0]); })
    .y0(function(d) { return h(d[2]); })
    .y1(function(d) { return h(d[1]); });
  svg.append("path").attr("d", canopy(geneCanopy)).attr("fill", "#0b0b08");

  svg.append("g").selectAll("line").data(geneTwigs).enter().append("line")
    .attr("x1", function(d) { return pos(d[0]); }).attr("x2", function(d) { return pos(d[0]); })
    .attr("y1", h(.97)).attr("y2", function(d) { return h(d[1]); })
    .attr("stroke", "#0b0b08").attr("stroke-width", 3.4);

  svg.append("g").selectAll("line").data(geneSpikes).enter().append("line")
    .attr("x1", function(d) { return pos(d[0]); }).attr("x2", function(d) { return pos(d[0]); })
    .attr("y1", h(.97)).attr("y2", function(d) { return h(d[1]); })
    .attr("stroke", "#0b0b08").attr("stroke-width", function(d) { return d[2]; });

  var sweep = d3.area().curve(d3.curveMonotoneY)
    .y(function(d) { return h(d[1]); })
    .x0(function(d) { return pos(d[0]) - d[2]; })
    .x1(function(d) { return pos(d[0]) + d[2]; });
  svg.append("g").selectAll("path").data(geneSweeps).enter().append("path")
    .attr("d", sweep).attr("fill", "#0b0b08");

  svg.append("line").attr("x1", pos(0)).attr("x2", pos(744)).attr("y1", h(1)).attr("y2", h(1))
    .attr("stroke", "#222").attr("stroke-width", 3);

  // module colour rows
  function drawRuns(runs, y, height) {
    var at = 0, cells = runs.map(function(r) {
      var c = {color: r[0], start: at, width: r[1]};
      at += r[1];
      return c;
    });
    svg.append("g").selectAll("rect").data(cells).enter().append("rect")
      .attr("x", function(d) { return pos(d.start); }).attr("y", y)
      .attr("width", function(d) { return Math.min(pos(d.start + d.width), 998) - pos(d.start) + .2; })
      .attr("height", height)
      .attr("fill", function(d) { return moduleColors[d.color]; });
  }
  drawRuns(sharedRuns.concat(dynamicTail), 1012, 55);
  drawRuns(sharedRuns.concat(mergedTail), 1067, 54);
  [1011.7, 1066.7, 1121].forEach(function(y) {
    svg.append("line").attr("x1", 244).attr("x2", 998).attr("y1", y).attr("y2", y)
      .attr("stroke", "#000").attr("stroke-width", 2.8);
  });
  addText("Dynamic Tree Cut", 233, 1039.5, 19.3, {anchor: "end"});
  addText("Merged Tree Cut", 233, 1092, 19.3, {anchor: "end"});
  addText("hclust (*, \"average\")", 621, 1134, 23.4);
}

function drawModuleTrait() {
  addText("Module\u2212trait relationships", 1572, 712, 29.2, {bold: true});
  var color = d3.scaleLinear().domain([-1, -.42, 0, .29, .5, 1])
    .range(["#4a8cc9", "#a9cee9", "#ffffff", "#fec4b6", "#ffa08a", "#e63c17"]);
  function cellColor(v) { return Math.abs(v) < .05 ? "#ffffff" : color(v); }

  var row = d3.scaleBand().domain(moduleNames).range([763, 1687.7]);
  svg.append("g").selectAll("rect").data(moduleNames).enter().append("rect")
    .attr("x", 1370.8).attr("width", 44).attr("y", function(d) { return row(d); }).attr("height", row.bandwidth() + .3)
    .attr("fill", function(d, i) { return moduleColors[moduleSwatches[i]]; });
  svg.append("g").selectAll("rect").data(moduleNames).enter().append("rect")
    .attr("x", 1421.4).attr("width", 284.6).attr("y", function(d) { return row(d); }).attr("height", row.bandwidth() + .3)
    .attr("fill", function(d, i) { return cellColor(moduleCor[i]); });
  box(1421.4, 763, 1706, 1687.7);

  // the cell text sits a little right of centre, more so for the long strings
  function cellText(s, y) {
    var t = addText(s, 1568, y, 20.5);
    t.attr("x", 1568 + .15 * t.node().getComputedTextLength());
  }
  moduleNames.forEach(function(name, i) {
    var mid = row(name) + row.bandwidth() / 2, nudge = i == 0 ? 0 : 2.8;
    addText(name, 1364, mid + .2, 24.6, {anchor: "end"});
    cellText(moduleCorText[i], mid - 15 + nudge);
    cellText(modulePText[i], mid + 5.5 + nudge);
  });
  addText("ERS", 1543, 1733, 24, {rotate: -45});

  // colour key
  var key = d3.scaleLinear().domain([-1, 1]).range([1632, 818]);
  var bins = d3.range(50);
  svg.append("g").selectAll("rect").data(bins).enter().append("rect")
    .attr("x", 1719).attr("width", 20)
    .attr("y", function(d) { return key(-1 + (d + 1) * .04); })
    .attr("height", key(-1) - key(-1 + .04) + .4)
    .attr("fill", function(d) { return color(-1 + (d + .5) * .04); });
  box(1719, 818, 1739, 1632);
  var g = svg.append("g").attr("transform", "translate(1739,0)")
    .call(d3.axisRight(key).tickValues(legendTicks).tickSize(15).tickSizeOuter(0).tickFormat(function(d) {
      return String(d).replace("-", "\u2212");
    }));
  g.select(".domain").remove();
  g.selectAll("line").attr("stroke", "#000").attr("stroke-width", 2.4);
  g.selectAll("text").attr("x", 21).attr("font-size", 24.7).attr("font-family", "Liberation Sans");
}

function drawScatter() {
  addText("Module membership vs. gene significance", 626.5, 1213, 24.25, {bold: true});
  addText("cor=0.38, p=5.8e\u221228", 652.5, 1238.5, 24.25, {bold: true});
  var x = d3.scaleLinear().domain([.2, .8]).range([429.4, 781.7]);
  var y = d3.scaleLinear().domain([0, .6]).range([1709.5, 1269]);

  svg.append("g").selectAll("circle").data(genePoints).enter().append("circle")
    .attr("cx", function(d) { return x(d[0]); }).attr("cy", function(d) { return y(d[1]); })
    .attr("r", 3.9).attr("fill", "none").attr("stroke", "#83dfd2").attr("stroke-width", 2.3);

  svg.append("line").attr("x1", 362).attr("x2", 878.5).attr("y1", y(.2)).attr("y2", y(.2))
    .attr("stroke", RED).attr("stroke-width", 2.4);
  svg.append("line").attr("x1", x(.8)).attr("x2", x(.8)).attr("y1", 1262).attr("y2", 1726)
    .attr("stroke", RED).attr("stroke-width", 2.4);
  box(362, 1262, 878.5, 1726);
  leftAxis(362, y, [0, .1, .2, .3, .4, .5, .6], 10.5, 30, d3.format(".1f"), 24, 4.5).select(".domain").remove();
  bottomAxis(1726, x, [.2, .4, .6, .8], 10, 23, d3.format(".1f"), 24, 4);
  addText("Module Membership in turquoise module", 610, 1781, 24.3);
  addText("Gene significance for  ERS", 296, 1453, 24.3, {rotate: -90}).style("white-space", "pre");
}

drawSampleDendrogram();
drawSoftThreshold();
drawGeneDendrogram();
drawModuleTrait();
drawScatter();
</script>
</body>
</html>
